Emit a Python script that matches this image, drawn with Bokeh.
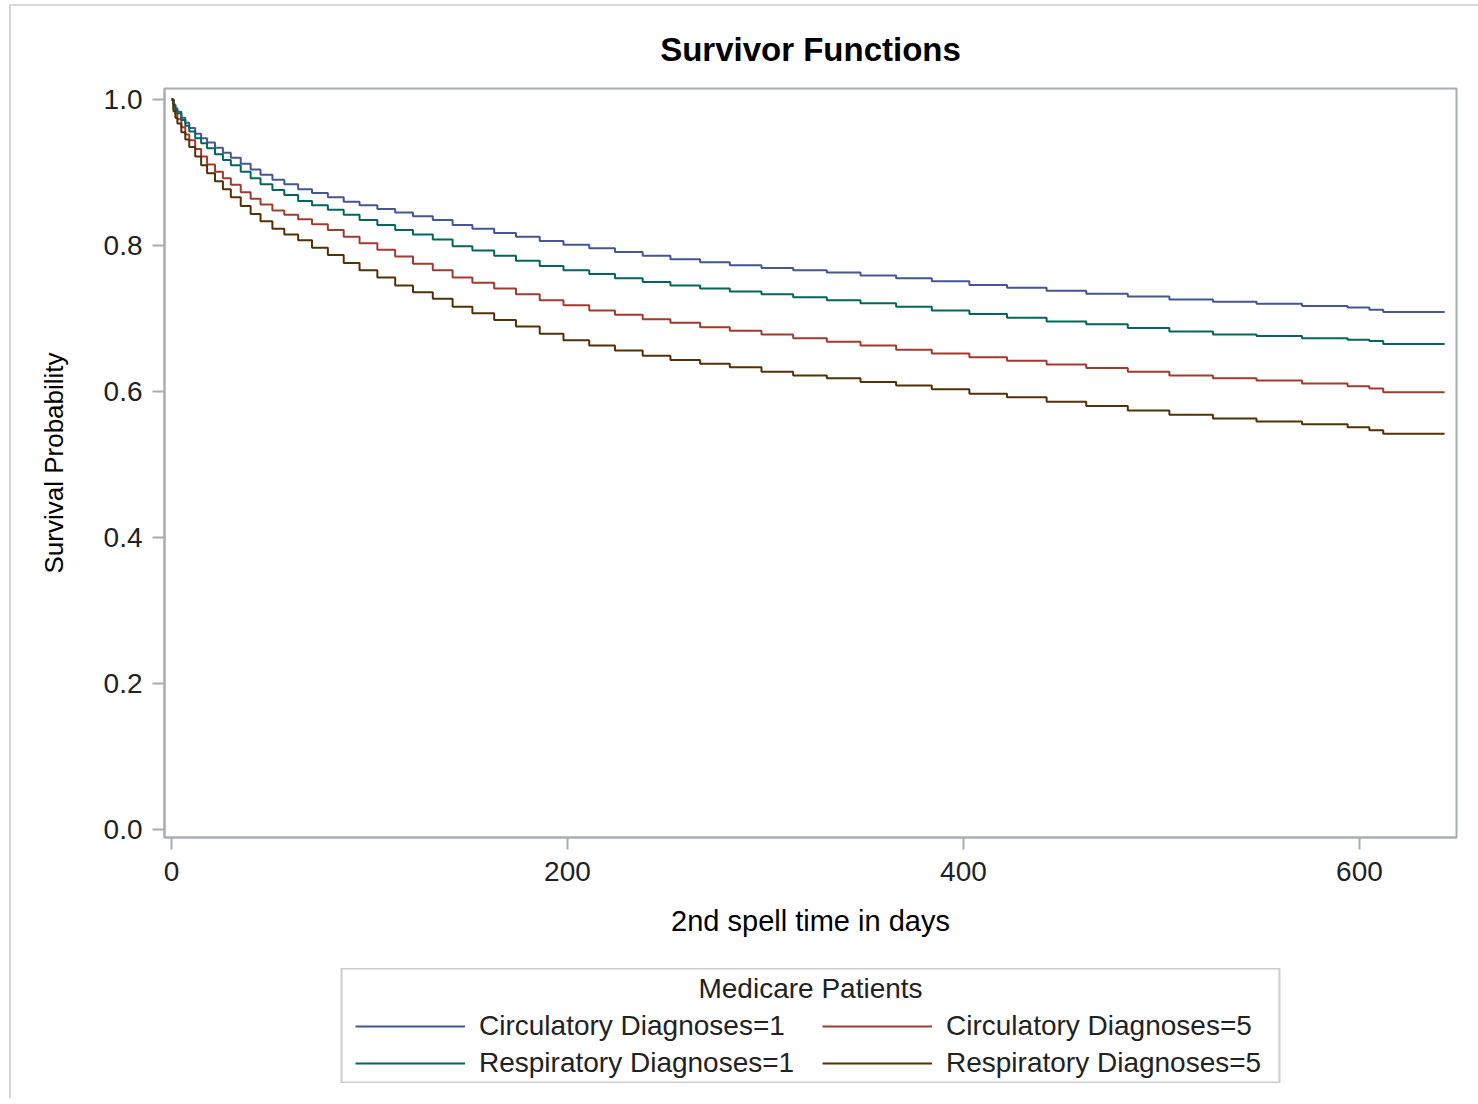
from bokeh.plotting import figure
from bokeh.layouts import column
from bokeh.models import Legend, LegendItem, Label, FixedTicker, NumeralTickFormatter, Range1d
from bokeh.embed import file_html
from bokeh.resources import INLINE

# ---- data ----
days = [0, 1, 2, 3, 5, 7, 9, 12, 15, 18, 22, 26, 30, 35, 40, 45, 51, 57, 64, 71, 79, 87, 95,
        104, 113, 122, 132, 142, 152, 163, 174, 186, 198, 211, 224, 238, 252, 267, 282, 298,
        314, 331, 348, 366, 384, 403, 422, 442, 462, 483, 504, 526, 548, 571, 594, 605, 612, 643]

circ1 = [1.000, 0.993, 0.988, 0.983, 0.975, 0.968, 0.961, 0.953, 0.947, 0.941, 0.934, 0.927, 0.920,
         0.912, 0.904, 0.897, 0.890, 0.884, 0.877, 0.872, 0.866, 0.860, 0.855, 0.850, 0.845, 0.840,
         0.835, 0.828, 0.823, 0.817, 0.812, 0.806, 0.801, 0.796, 0.791, 0.786, 0.781, 0.777, 0.773,
         0.769, 0.766, 0.763, 0.759, 0.755, 0.751, 0.746, 0.742, 0.738, 0.734, 0.730, 0.726, 0.723,
         0.720, 0.717, 0.715, 0.712, 0.709, 0.709]

resp1 = [1.000, 0.992, 0.986, 0.981, 0.972, 0.964, 0.956, 0.947, 0.940, 0.933, 0.925, 0.917, 0.910,
         0.901, 0.892, 0.884, 0.876, 0.869, 0.861, 0.855, 0.849, 0.842, 0.835, 0.828, 0.821, 0.815,
         0.808, 0.799, 0.793, 0.786, 0.779, 0.772, 0.766, 0.761, 0.755, 0.750, 0.745, 0.741, 0.737,
         0.733, 0.729, 0.725, 0.721, 0.716, 0.711, 0.706, 0.701, 0.696, 0.692, 0.687, 0.682, 0.678,
         0.676, 0.673, 0.671, 0.669, 0.665, 0.665]

circ5 = [1.000, 0.988, 0.980, 0.973, 0.962, 0.952, 0.944, 0.932, 0.922, 0.911, 0.901, 0.892, 0.883,
         0.873, 0.864, 0.856, 0.848, 0.842, 0.836, 0.829, 0.821, 0.812, 0.803, 0.794, 0.785, 0.775,
         0.766, 0.756, 0.749, 0.741, 0.733, 0.725, 0.718, 0.711, 0.705, 0.699, 0.694, 0.688, 0.683,
         0.678, 0.673, 0.668, 0.663, 0.657, 0.652, 0.647, 0.642, 0.637, 0.632, 0.627, 0.622, 0.618,
         0.615, 0.611, 0.607, 0.604, 0.599, 0.599]

resp5 = [1.000, 0.984, 0.975, 0.967, 0.955, 0.945, 0.935, 0.922, 0.910, 0.899, 0.888, 0.877, 0.866,
         0.854, 0.843, 0.833, 0.823, 0.815, 0.807, 0.797, 0.787, 0.776, 0.766, 0.756, 0.745, 0.736,
         0.727, 0.716, 0.707, 0.698, 0.689, 0.679, 0.670, 0.663, 0.656, 0.649, 0.643, 0.638, 0.633,
         0.627, 0.622, 0.618, 0.613, 0.608, 0.603, 0.597, 0.592, 0.586, 0.580, 0.574, 0.568, 0.563,
         0.559, 0.555, 0.551, 0.547, 0.542, 0.542]

series_names = ["Circulatory Diagnoses=1", "Circulatory Diagnoses=5",
                "Respiratory Diagnoses=1", "Respiratory Diagnoses=5"]
series_values = [circ1, circ5, resp1, resp5]
series_colors = ["#445694", "#A23A2E", "#01665E", "#543005"]
legend_title = "Medicare Patients"

x_ticks = [0, 200, 400, 600]
y_ticks = [0.0, 0.2, 0.4, 0.6, 0.8, 1.0]

FONT = "Liberation Sans"
FRAME = "#A7ADB3"

# ---------------- main plot ----------------
p = figure(width=1467, height=954, output_backend="svg", toolbar_location=None,
           x_range=Range1d(-3.5, 649), y_range=Range1d(-0.011, 1.015),
           min_border_left=153, min_border_right=22, min_border_top=82, min_border_bottom=123)

p.title.text = "Survivor Functions"
p.title.align = "center"
p.title.text_font = FONT
p.title.text_font_size = "33px"
p.title.text_font_style = "bold"
p.title.text_color = "#000000"
p.title.standoff = 42

p.outline_line_color = FRAME
p.outline_line_width = 2
p.grid.visible = False

for ax in (p.xaxis[0], p.yaxis[0]):
    ax.axis_line_color = FRAME
    ax.axis_line_width = 2
    ax.major_tick_line_color = FRAME
    ax.major_tick_line_width = 2
    ax.major_tick_out = 12
    ax.major_tick_in = 0
    ax.minor_tick_line_color = None
    ax.major_label_text_font = FONT
    ax.major_label_text_font_size = "28px"
    ax.major_label_text_color = "#222222"
    ax.axis_label_text_font = FONT
    ax.axis_label_text_font_style = "normal"
    ax.axis_label_text_color = "#000000"

p.xaxis.ticker = FixedTicker(ticks=x_ticks)
p.yaxis.ticker = FixedTicker(ticks=y_ticks)
p.yaxis.formatter = NumeralTickFormatter(format="0.0")
p.xaxis.axis_label = "2nd spell time in days"
p.xaxis.axis_label_text_font_size = "29px"
p.xaxis.major_label_standoff = 12
p.xaxis.axis_label_standoff = 21
p.yaxis.axis_label = "Survival Probability"
p.yaxis.axis_label_text_font_size = "26px"
p.yaxis.major_label_standoff = 10
p.yaxis.axis_label_standoff = 32

for name, vals, col in zip(series_names, series_values, series_colors):
    p.step(days, vals, mode="after", line_color=col, line_width=2)

# ---------------- legend panel ----------------
# (inside a column Bokeh gives this figure the same side borders as the main plot: 153 / 22)
lg = figure(width=1113, height=115, output_backend="svg", toolbar_location=None,
            x_range=Range1d(1000, 1001), y_range=Range1d(5, 6),
            x_axis_location=None, y_axis_location=None,
            min_border=0, min_border_left=0, min_border_right=0,
            min_border_top=0, min_border_bottom=0)
lg.grid.visible = False
lg.outline_line_color = "#CCCCCC"
lg.outline_line_width = 2
lg.margin = (8, 0, 15, 177)

items = []
for name, vals, col in zip(series_names, series_values, series_colors):
    r = lg.step(days, vals, mode="after", line_color=col, line_width=2)
    items.append(LegendItem(label=name, renderers=[r]))

legend = Legend(items=items, orientation="horizontal", ncols=2,
                location=(14, 4), margin=0, padding=0, spacing=5,
                glyph_width=110, glyph_height=28, label_height=28, label_width=338,
                label_standoff=14,
                label_text_font=FONT, label_text_font_size="28px", label_text_color="#222222",
                border_line_color=None, background_fill_alpha=0.0)
lg.add_layout(legend, "center")

lg.add_layout(Label(x=469, y=95, x_units="screen", y_units="screen",
                    text=legend_title, text_align="center", text_baseline="middle",
                    text_font=FONT, text_font_size="28px", text_color="#222222"))

page = column(p, lg)
page.margin = (4, 0, 0, 9)
page.styles = {"border-left": "2px solid #D6D6D6", "border-top": "2px solid #D6D6D6"}

open("out.html", "w").write(file_html(page, INLINE))
